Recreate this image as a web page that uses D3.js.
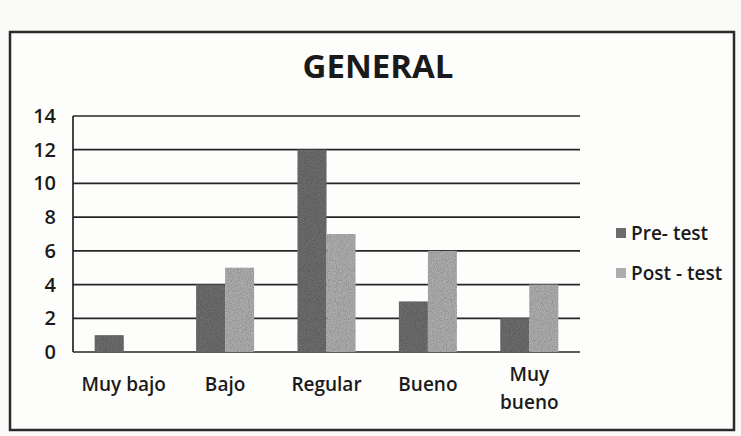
<!DOCTYPE html>
<html>
<head>
<script src="https://cdn.jsdelivr.net/npm/d3@7"></script>
<style type="text/css">
body { margin: 0; background: #fafaf8; }
text { font-family: "Open Sans", "Noto Sans", sans-serif; fill: #1a1a1a; }
.grid line { stroke: #262626; stroke-width: 1.7; }
</style>
</head>
<body>
<div id="chart"></div>
<script>

// data
var categories = ["Muy bajo", "Bajo", "Regular", "Bueno", "Muy bueno"];
var seriesNames = ["Pre- test", "Post - test"];
var preTest  = [1, 4, 12, 3, 2];
var postTest = [0, 5, 7, 6, 4];
var yTicks = [0, 2, 4, 6, 8, 10, 12, 14];
var colors = ["#6c6c6c", "#acacac"];

var W = 741, H = 436;
var margin = {top: 116, right: 161, bottom: 84, left: 73};
var width = W - margin.left - margin.right,
    height = H - margin.top - margin.bottom;

var svg = d3.select("#chart").append("svg")
    .attr("width", W).attr("height", H);

// speckle texture like the scan
var defs = svg.append("defs");
var f = defs.append("filter").attr("id", "speckle").attr("x", 0).attr("y", 0).attr("width", 1).attr("height", 1);
f.append("feTurbulence").attr("type", "fractalNoise").attr("baseFrequency", 0.9).attr("numOctaves", 2).attr("result", "noise");
f.append("feColorMatrix").attr("in", "noise").attr("type", "matrix")
    .attr("values", "0 0 0 0 0  0 0 0 0 0  0 0 0 0 0  0 0 0 -0.9 0.55").attr("result", "dots");
f.append("feComposite").attr("in", "dots").attr("in2", "SourceGraphic").attr("operator", "in").attr("result", "dots2");
var fm = f.append("feMerge");
fm.append("feMergeNode").attr("in", "SourceGraphic");
fm.append("feMergeNode").attr("in", "dots2");

// frame
svg.append("rect")
    .attr("x", 10).attr("y", 32).attr("width", 724).attr("height", 398)
    .attr("fill", "#fdfdfc").attr("stroke", "#2b2b2b").attr("stroke-width", 2.5);

// title
svg.append("text")
    .attr("x", 378).attr("y", 78)
    .attr("text-anchor", "middle")
    .style("font-size", "33px").style("font-weight", "bold")
    .text("GENERAL");

var g = svg.append("g")
    .attr("transform", "translate(" + margin.left + "," + margin.top + ")");

var x = d3.scaleBand().domain(categories).range([0, width]).paddingInner(0).paddingOuter(0);
var x1 = d3.scaleBand().domain([0, 1]).range([0, 58]);
var y = d3.scaleLinear().domain([0, 14]).range([height, 0]);

// gridlines
g.append("g").attr("class", "grid")
  .selectAll("line").data(yTicks).enter().append("line")
    .attr("x1", 0).attr("x2", width)
    .attr("y1", function(d) { return y(d); })
    .attr("y2", function(d) { return y(d); });

// y tick labels
g.selectAll("text.ytick").data(yTicks).enter().append("text")
    .attr("class", "ytick")
    .attr("x", -17).attr("y", function(d) { return y(d); })
    .attr("dy", "0.35em").attr("text-anchor", "end")
    .style("font-size", "20px").style("font-weight", "600")
    .text(function(d) { return d; });

// bars
var data = categories.map(function(c, i) { return {cat: c, vals: [preTest[i], postTest[i]]}; });
var groups = g.selectAll("g.cat").data(data).enter().append("g")
    .attr("class", "cat")
    .attr("transform", function(d) { return "translate(" + (x(d.cat) + (x.bandwidth() - 58) / 2) + ",0)"; });
groups.selectAll("rect").data(function(d) { return d.vals; }).enter().append("rect")
    .attr("x", function(d, i) { return x1(i); })
    .attr("width", x1.bandwidth())
    .attr("y", function(d) { return y(d); })
    .attr("height", function(d) { return height - y(d); })
    .attr("fill", function(d, i) { return colors[i]; })
    .attr("filter", "url(#speckle)");

// y axis line
g.append("line").attr("x1", 0).attr("x2", 0).attr("y1", 0).attr("y2", height)
    .attr("stroke", "#262626").attr("stroke-width", 1.7);

// category labels
g.selectAll("text.xtick").data(categories).enter().append("text")
    .attr("class", "xtick")
    .attr("text-anchor", "middle")
    .style("font-size", "19px").style("font-weight", "600")
    .each(function(d) {
        var t = d3.select(this);
        var cx = x(d) + x.bandwidth() / 2;
        if (d === "Muy bueno") {
            t.append("tspan").attr("x", cx).attr("y", height + 29).text("Muy");
            t.append("tspan").attr("x", cx).attr("y", height + 57).text("bueno");
        } else {
            t.append("tspan").attr("x", cx).attr("y", height + 39).text(d);
        }
    });

// legend
var legend = svg.selectAll("g.legend").data(seriesNames).enter().append("g")
    .attr("class", "legend")
    .attr("transform", function(d, i) { return "translate(616," + (233 + i * 40) + ")"; });
legend.append("rect").attr("x", 0).attr("y", -5).attr("width", 10).attr("height", 10)
    .attr("fill", function(d, i) { return colors[i]; });
legend.append("text").attr("x", 15).attr("y", 0).attr("dy", "0.35em")
    .style("font-size", "19px").style("font-weight", "600")
    .text(function(d) { return d; });

</script>
</body>
</html>
